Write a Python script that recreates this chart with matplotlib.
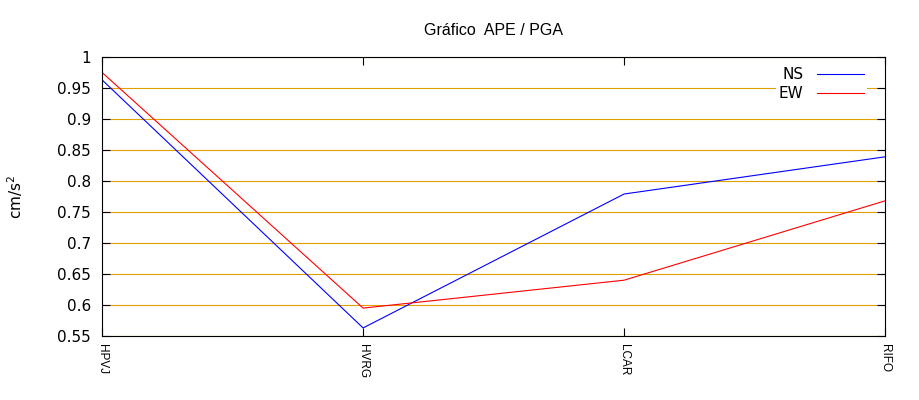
import matplotlib
matplotlib.use("Agg")
import matplotlib.pyplot as plt

stations = ["HPVJ", "HVRG", "LCAR", "RIFO"]
ns_values = [0.963, 0.563, 0.779, 0.839]
ew_values = [0.975, 0.595, 0.640, 0.768]
y_ticks = [0.55, 0.6, 0.65, 0.7, 0.75, 0.8, 0.85, 0.9, 0.95, 1.0]
y_labels = ["0.55", "0.6", "0.65", "0.7", "0.75", "0.8", "0.85", "0.9", "0.95", "1"]

fig = plt.figure(figsize=(9.2, 4.0), dpi=100)
ax = fig.add_axes([0.111, 0.16, 0.851, 0.6975])

x = list(range(len(stations)))
ax.plot(x, ns_values, color="#0000ff", lw=0.8, label="NS", zorder=3)
ax.plot(x, ew_values, color="#ff0000", lw=0.8, label="EW", zorder=3)

ax.set_xlim(0, len(stations) - 1)
ax.set_ylim(0.55, 1.0)
ax.set_yticks(y_ticks)
ax.set_yticklabels(y_labels, fontsize=11)
ax.set_xticks(x)
ax.set_xticklabels(stations, rotation=270, fontsize=8.5, family="Liberation Sans",
                   va="top", ha="center")

ax.grid(axis="y", color="#e0a000", lw=0.8, zorder=1)
ax.tick_params(axis="both", direction="in", length=6, width=0.8, color="black",
               top=True, right=True)
ax.tick_params(axis="y", pad=8)
ax.tick_params(axis="x", pad=6)
for s in ax.spines.values():
    s.set_linewidth(0.8)
    s.set_zorder(4)

ax.set_ylabel("cm/s$^2$", fontsize=11, labelpad=23)
ax.set_title("Gráfico  APE / PGA", fontsize=11.5, family="Liberation Sans", pad=16)

leg = ax.legend(loc="upper right", bbox_to_anchor=(0.977, 0.975), markerfirst=False,
                fontsize=11, frameon=True, framealpha=1, edgecolor="none",
                fancybox=False, handlelength=3.1, handletextpad=0.85,
                labelspacing=0.25, borderpad=0.2, borderaxespad=0)
for t in leg.get_texts():
    t.set_ha("right")
leg.set_zorder(5)

fig.savefig("out.png", dpi=100)
